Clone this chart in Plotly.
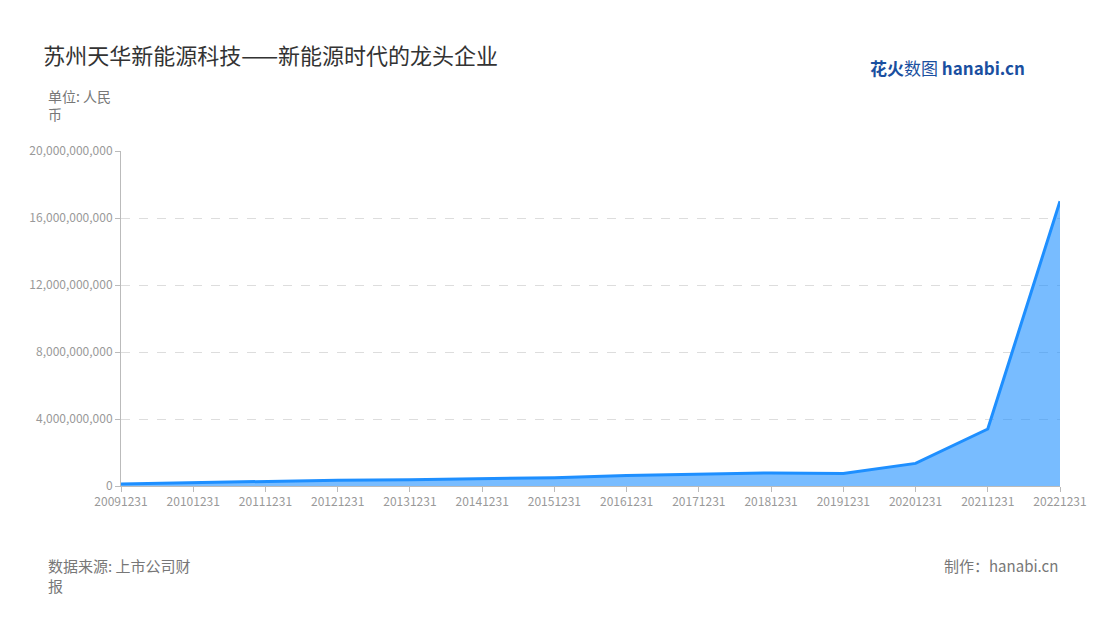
import plotly.graph_objects as go

dates = ["20091231", "20101231", "20111231", "20121231", "20131231", "20141231", "20151231",
         "20161231", "20171231", "20181231", "20191231", "20201231", "20211231", "20221231"]
revenue = [0.12e9, 0.2e9, 0.28e9, 0.35e9, 0.37e9, 0.42e9, 0.5e9,
           0.62e9, 0.72e9, 0.78e9, 0.75e9, 1.35e9, 3.4e9, 17.0e9]
tick_vals = [0, 4e9, 8e9, 12e9, 16e9, 20e9]

font = "Noto Sans CJK SC"

fig = go.Figure(go.Scatter(
    x=list(range(len(dates))), y=revenue, mode="lines",
    line=dict(color="#1e8fff", width=3),
    fill="tozeroy", fillcolor="rgba(30,143,255,0.6)",
))

fig.update_layout(
    width=1100, height=620, plot_bgcolor="white", paper_bgcolor="white",
    margin=dict(l=113, r=48, t=143, b=142),
    showlegend=False, font=dict(family=font, color="#999"),
    title=dict(text="苏州天华新能源科技——新能源时代的龙头企业", x=0.032, y=0.935,
               font=dict(size=22, color="#333", family=font)),
    xaxis=dict(tickvals=list(range(len(dates))), ticktext=dates, range=[0, len(dates) - 1],
               showgrid=False, showline=True, linecolor="#bbb", ticks="outside",
               ticklen=5, tickcolor="#bbb", tickfont=dict(size=12, color="#999")),
    yaxis=dict(range=[0, 20e9], tickvals=tick_vals, tickformat=",d",
               showgrid=True, gridcolor="#ddd", griddash="dash", zeroline=False,
               showline=True, linecolor="#bbb", ticks="outside", ticklen=5, tickcolor="#bbb",
               tickfont=dict(size=12, color="#999")),
    annotations=[
        dict(text="单位: 人民<br>币", xref="paper", yref="paper", x=-0.08, y=1.2,
             xanchor="left", yanchor="top", align="left", showarrow=False,
             font=dict(size=14, color="#777")),
        dict(text="数据来源: 上市公司财<br>报", xref="paper", yref="paper", x=-0.08, y=-0.2,
             xanchor="left", yanchor="top", align="left", showarrow=False,
             font=dict(size=15, color="#777")),
        dict(text="制作：hanabi.cn", xref="paper", yref="paper", x=1.0, y=-0.2,
             xanchor="right", yanchor="top", showarrow=False,
             font=dict(size=15, color="#777")),
        dict(text="<b>花火</b>数图 <b>hanabi.cn</b>", xref="paper", yref="paper", x=0.965, y=1.25,
             xanchor="right", yanchor="middle", showarrow=False,
             font=dict(size=17, color="#1a4fa0")),
    ],
)

fig.write_html("out.html")
